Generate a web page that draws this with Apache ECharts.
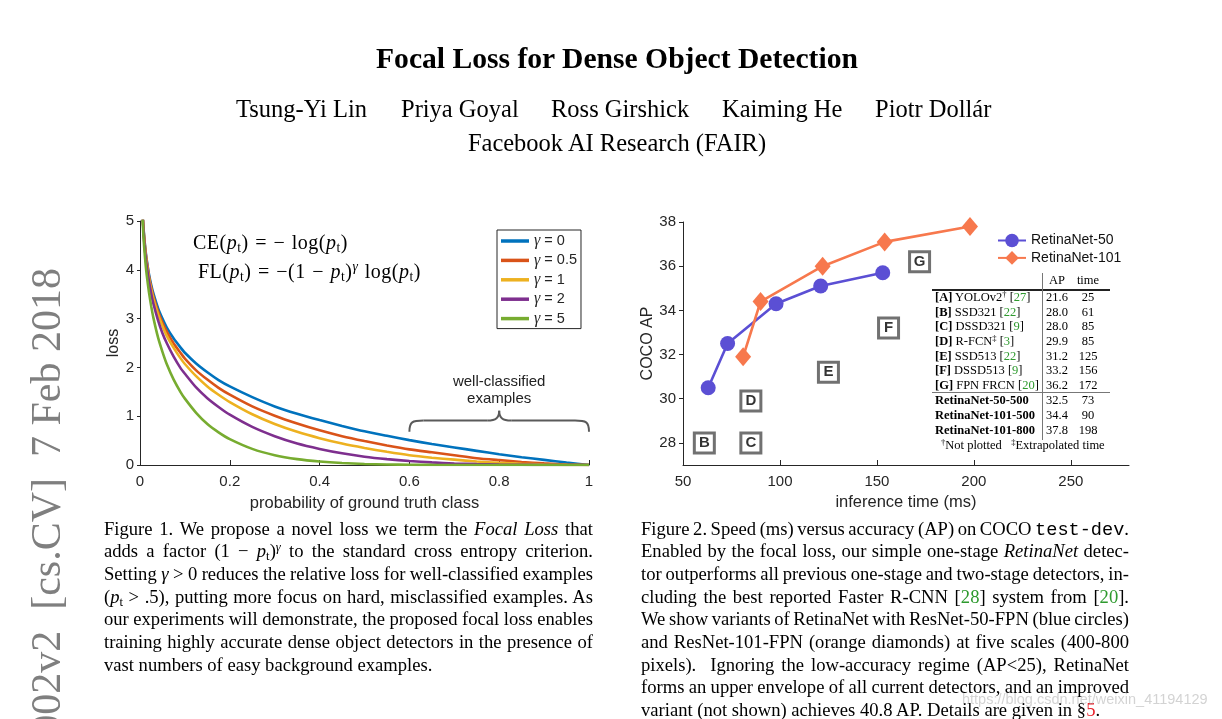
<!DOCTYPE html>
<html><head><meta charset="utf-8">
<script src="https://cdn.jsdelivr.net/npm/echarts@6/dist/echarts.min.js"></script>
<style>
html,body{margin:0;padding:0;background:#fff;}
#page{position:relative;width:1222px;height:719px;overflow:hidden;background:#fff;}
#chart{position:absolute;left:0;top:0;width:1222px;height:719px;}
.t{position:absolute;white-space:nowrap;font-family:"Liberation Serif","Times New Roman",serif;color:#000;}
.cap{position:absolute;font-family:"Liberation Serif","Times New Roman",serif;font-size:18.6px;color:#000;}
.cap .ln{height:22.67px;line-height:22.67px;white-space:nowrap;}
sub{font-size:0.68em;vertical-align:-0.22em;line-height:0;}
sup{font-size:0.68em;vertical-align:0.5em;line-height:0;}
.mono{font-family:"Liberation Mono","DejaVu Sans Mono",monospace;font-size:18.6px;}
.g{color:#2e9a2e;}
.r{color:#e8202a;}
.tb{position:absolute;font-family:"Liberation Serif","Times New Roman",serif;font-size:12.5px;color:#000;white-space:nowrap;line-height:14px;}
.hl{position:absolute;background:#222;}
</style>
</head>
<body>
<div id="page">
  <div id="chart"></div>
  <div id="overlay"></div>
</div>
<script>
// ---------------- Figure 1 data ----------------
const pValues = [0.005, 0.0075, 0.01, 0.0125, 0.015, 0.02, 0.025, 0.03, 0.04, 0.05, 0.06, 0.075, 0.09, 0.1, 0.125, 0.15, 0.175, 0.2, 0.25, 0.3, 0.35, 0.4, 0.45, 0.5, 0.55, 0.6, 0.65, 0.7, 0.75, 0.8, 0.85, 0.9, 0.95, 1.0];
const lossGamma0  = [5.30, 4.89, 4.61, 4.38, 4.20, 3.91, 3.69, 3.51, 3.22, 3.00, 2.81, 2.59, 2.41, 2.30, 2.08, 1.90, 1.74, 1.61, 1.39, 1.20, 1.05, 0.92, 0.80, 0.69, 0.60, 0.51, 0.43, 0.36, 0.29, 0.22, 0.16, 0.105, 0.051, 0];
const lossGamma05 = [5.28, 4.87, 4.58, 4.35, 4.17, 3.87, 3.64, 3.45, 3.15, 2.92, 2.73, 2.49, 2.30, 2.18, 1.94, 1.75, 1.58, 1.44, 1.20, 1.01, 0.85, 0.71, 0.59, 0.49, 0.40, 0.32, 0.26, 0.20, 0.14, 0.10, 0.063, 0.033, 0.011, 0];
const lossGamma1  = [5.27, 4.86, 4.56, 4.33, 4.14, 3.83, 3.60, 3.40, 3.09, 2.85, 2.64, 2.40, 2.19, 2.07, 1.82, 1.61, 1.44, 1.29, 1.04, 0.84, 0.68, 0.55, 0.44, 0.35, 0.27, 0.20, 0.15, 0.11, 0.072, 0.045, 0.024, 0.011, 0.003, 0];
const lossGamma2  = [5.25, 4.82, 4.51, 4.27, 4.07, 3.76, 3.51, 3.30, 2.97, 2.70, 2.49, 2.22, 1.99, 1.87, 1.59, 1.37, 1.19, 1.03, 0.78, 0.59, 0.44, 0.33, 0.24, 0.17, 0.12, 0.082, 0.053, 0.032, 0.018, 0.009, 0.004, 0.001, 0, 0];
const lossGamma5  = [5.17, 4.71, 4.38, 4.11, 3.89, 3.54, 3.25, 3.01, 2.62, 2.32, 2.06, 1.75, 1.50, 1.36, 1.07, 0.84, 0.67, 0.53, 0.33, 0.20, 0.12, 0.071, 0.040, 0.022, 0.011, 0.005, 0.002, 0.001, 0, 0, 0, 0, 0, 0];
const gammaLabels = ['0', '0.5', '1', '2', '5'];
const gammaColors = ['#0072BD', '#D95319', '#EDB120', '#7E2F8E', '#77AC30'];
const lossTicksX  = [0, 0.2, 0.4, 0.6, 0.8, 1];
const braceX = [0.6, 1.0];            // well-classified range
const braceY = [0.68, 0.91, 1.11];    // end, bar, peak (loss units)
const braceTextPos = [0.8, 1.52];

// ---------------- Figure 2 data ----------------
const r50Time  = [63, 73, 98, 121, 153];
const r50AP    = [30.5, 32.5, 34.3, 35.1, 35.7];
const r101Time = [81, 90, 122, 154, 198];
const r101AP   = [31.9, 34.4, 36.0, 37.1, 37.8];
const otherLetters = ['A', 'B', 'C', 'D', 'E', 'F', 'G'];
const otherNames   = ['YOLOv2', 'SSD321', 'DSSD321', 'R-FCN', 'SSD513', 'DSSD513', 'FPN FRCN'];
const otherMarks   = ['†', '', '', '‡', '', '', ''];
const otherRefs    = ['27', '22', '9', '3', '22', '9', '20'];
const otherAP      = [21.6, 28.0, 28.0, 29.9, 31.2, 33.2, 36.2];
const otherTime    = [25, 61, 85, 85, 125, 156, 172];
const otherPlotted = [false, true, true, true, true, true, true];
const retinaNames  = ['RetinaNet-50-500', 'RetinaNet-101-500', 'RetinaNet-101-800'];
const retinaAP     = [32.5, 34.4, 37.8];
const retinaTime   = [73, 90, 198];
const speedTicksX  = [50, 100, 150, 200, 250];
const apTicksY     = [28, 30, 32, 34, 36, 38];

// ---------------- chart ----------------
const axisCol = '#262626';
const sans = '"Liberation Sans", Arial, Helvetica, sans-serif';
const chart = echarts.init(document.getElementById('chart'), null, {renderer: 'canvas'});

const lossArrays = [lossGamma0, lossGamma05, lossGamma1, lossGamma2, lossGamma5];
const lossSeries = lossArrays.map((arr, k) => ({
  type: 'line', name: 'γ = ' + gammaLabels[k], xAxisIndex: 0, yAxisIndex: 0,
  data: pValues.map((p, i) => [p, arr[i]]),
  smooth: 0.2, symbol: 'none', clip: true,
  lineStyle: {color: gammaColors[k], width: 2.6}, itemStyle: {color: gammaColors[k]},
  z: 2 + k, animation: false
}));

const boxData = [];
otherLetters.forEach((l, i) => { if (otherPlotted[i]) boxData.push({value: [otherTime[i], otherAP[i]], name: l}); });

const option = {
  animation: false,
  grid: [
    {left: 140, top: 221, width: 449, height: 244, containLabel: false},
    {left: 683, top: 222, width: 446, height: 243, containLabel: false}
  ],
  xAxis: [
    {type: 'value', gridIndex: 0, min: 0, max: 1, interval: 0.2,
     axisLine: {lineStyle: {color: axisCol, width: 1}}, axisTick: {inside: true, length: 5, lineStyle: {color: axisCol}},
     axisLabel: {color: axisCol, fontSize: 15, fontFamily: sans, margin: 9, customValues: lossTicksX},
     splitLine: {show: false},
     name: 'probability of ground truth class', nameLocation: 'middle', nameGap: 30,
     nameTextStyle: {color: axisCol, fontSize: 16.5, fontFamily: sans}},
    {type: 'value', gridIndex: 1, min: 50, max: 280,
     axisLine: {lineStyle: {color: axisCol, width: 1}}, axisTick: {inside: true, length: 5, customValues: speedTicksX, lineStyle: {color: axisCol}},
     axisLabel: {color: axisCol, fontSize: 15, fontFamily: sans, margin: 9, customValues: speedTicksX},
     splitLine: {show: false},
     name: 'inference time (ms)', nameLocation: 'middle', nameGap: 29,
     nameTextStyle: {color: axisCol, fontSize: 16.5, fontFamily: sans}}
  ],
  yAxis: [
    {type: 'value', gridIndex: 0, min: 0, max: 5, interval: 1,
     axisLine: {show: true, lineStyle: {color: axisCol, width: 1}}, axisTick: {show: true, inside: false, length: 3, lineStyle: {color: axisCol}},
     axisLabel: {color: axisCol, fontSize: 15, fontFamily: sans, margin: 6},
     splitLine: {show: false},
     name: 'loss', nameLocation: 'middle', nameGap: 16, nameRotate: 90,
     nameTextStyle: {color: axisCol, fontSize: 16, fontFamily: sans}},
    {type: 'value', gridIndex: 1, min: 27, max: 38,
     axisLine: {show: true, lineStyle: {color: axisCol, width: 1}}, axisTick: {show: true, inside: false, length: 4, customValues: apTicksY, lineStyle: {color: axisCol}},
     axisLabel: {color: axisCol, fontSize: 15, fontFamily: sans, margin: 7, customValues: apTicksY},
     splitLine: {show: false},
     name: 'COCO AP', nameLocation: 'middle', nameGap: 26, nameRotate: 90,
     nameTextStyle: {color: axisCol, fontSize: 16, fontFamily: sans}}
  ],
  legend: [
    {data: lossSeries.map(s => s.name), orient: 'vertical', left: 497, top: 230,
     itemWidth: 28, itemHeight: 3.5, itemGap: 3.4, padding: [3, 4, 2, 4],
     borderColor: axisCol, borderWidth: 1, backgroundColor: '#fff',
     icon: 'rect',
     formatter: name => '{g|γ}{t|' + name.slice(1) + '}',
     textStyle: {rich: {
       g: {fontFamily: '"Liberation Serif", serif', fontStyle: 'italic', fontSize: 16, color: axisCol, lineHeight: 14},
       t: {fontFamily: sans, fontSize: 14.5, color: axisCol, lineHeight: 14}}},
     selectedMode: false},
    {data: ['RetinaNet-50', 'RetinaNet-101'], orient: 'vertical', left: 997, top: 232,
     itemWidth: 28, itemHeight: 17, itemGap: 0.4, padding: 0,
     textStyle: {fontFamily: sans, fontSize: 14, color: '#111', lineHeight: 17},
     selectedMode: false}
  ],
  series: lossSeries.concat([
    {type: 'line', name: 'RetinaNet-50', xAxisIndex: 1, yAxisIndex: 1,
     data: r50Time.map((t, i) => [t, r50AP[i]]), symbol: 'circle', symbolSize: 15,
     lineStyle: {color: '#5b4fd4', width: 2.6}, itemStyle: {color: '#5b4fd4'}, z: 5},
    {type: 'line', name: 'RetinaNet-101', xAxisIndex: 1, yAxisIndex: 1,
     data: r101Time.map((t, i) => [t, r101AP[i]]), symbol: 'diamond', symbolSize: [16, 19],
     lineStyle: {color: '#f7784d', width: 2.6}, itemStyle: {color: '#f7784d'}, z: 6},
    {type: 'scatter', name: 'others', xAxisIndex: 1, yAxisIndex: 1, data: boxData,
     symbol: 'rect', symbolSize: 20,
     itemStyle: {color: '#fff', borderColor: '#4d4d4d', borderWidth: 3},
     label: {show: true, position: 'inside', formatter: p => p.name, color: '#000',
             fontFamily: sans, fontWeight: 'bold', fontSize: 15},
     z: 4}
  ])
};
chart.setOption(option);

// brace + annotation in data coordinates of the left plot
try {
  const pL = chart.convertToPixel({gridIndex: 0}, [braceX[0], braceY[0]]);
  const pR = chart.convertToPixel({gridIndex: 0}, [braceX[1], braceY[0]]);
  const yBar = chart.convertToPixel({gridIndex: 0}, [braceX[0], braceY[1]])[1];
  const yPeak = chart.convertToPixel({gridIndex: 0}, [braceX[0], braceY[2]])[1];
  const xm = (pL[0] + pR[0]) / 2, yb = pL[1];
  const bs = {fill: null, stroke: '#5a5a5a', lineWidth: 2};
  const tp = chart.convertToPixel({gridIndex: 0}, braceTextPos);
  chart.setOption({graphic: [
    {type: 'bezierCurve', z: 10, style: bs, shape: {x1: pL[0], y1: yb, cpx1: pL[0], cpy1: yBar + 1, cpx2: pL[0] + 3, cpy2: yBar, x2: pL[0] + 14, y2: yBar}},
    {type: 'line', z: 10, style: bs, shape: {x1: pL[0] + 14, y1: yBar, x2: xm - 12, y2: yBar}},
    {type: 'bezierCurve', z: 10, style: bs, shape: {x1: xm - 12, y1: yBar, cpx1: xm - 3, cpy1: yBar, cpx2: xm, cpy2: yBar - 3, x2: xm, y2: yPeak}},
    {type: 'bezierCurve', z: 10, style: bs, shape: {x1: xm, y1: yPeak, cpx1: xm, cpy1: yBar - 3, cpx2: xm + 3, cpy2: yBar, x2: xm + 12, y2: yBar}},
    {type: 'line', z: 10, style: bs, shape: {x1: xm + 12, y1: yBar, x2: pR[0] - 14, y2: yBar}},
    {type: 'bezierCurve', z: 10, style: bs, shape: {x1: pR[0] - 14, y1: yBar, cpx1: pR[0] - 3, cpy1: yBar, cpx2: pR[0], cpy2: yBar + 1, x2: pR[0], y2: yb}},
    {type: 'text', x: tp[0], y: tp[1], z: 10,
     style: {text: 'well-classified\nexamples', align: 'center', verticalAlign: 'middle',
             font: '15px "Liberation Sans", Arial, sans-serif', fill: '#222', lineHeight: 17}}
  ]});
} catch (e) { console.log(e); }

// ---------------- text overlay (page text, formulas, table) ----------------
const ov = document.getElementById('overlay');
function add(html, style, cls) {
  const d = document.createElement('div');
  d.className = cls || 't';
  d.setAttribute('style', style);
  d.innerHTML = html;
  ov.appendChild(d);
  return d;
}
const pt = '<i>p</i><sub>t</sub>';
// title block
add('Focal Loss for Dense Object Detection', 'left:0;width:1234px;top:42px;text-align:center;font-weight:bold;font-size:29.6px;line-height:32px;');
const authors = [['Tsung-Yi Lin', 236], ['Priya Goyal', 401], ['Ross Girshick', 551], ['Kaiming He', 722], ['Piotr Dollár', 875]];
authors.forEach(a => add(a[0], `left:${a[1]}px;top:96px;font-size:24.5px;line-height:26px;`));
add('Facebook AI Research (FAIR)', 'left:0;width:1234px;top:130px;text-align:center;font-size:24.5px;line-height:26px;');

// arXiv side stamp (rotated)
add('arXiv:1708.02002v2&nbsp;&nbsp;[cs.CV]&nbsp;&nbsp;7 Feb 2018',
  'left:-954px;top:247px;width:1000px;height:42px;line-height:42px;text-align:right;font-size:42px;color:#7f7f7f;transform-origin:100% 50%;transform:rotate(-90deg);');

// formulas
add(`CE(${pt}) = &minus; log(${pt})`, 'left:193px;top:231px;font-size:20px;line-height:22px;letter-spacing:0.5px;word-spacing:1px;');
add(`FL(${pt}) = &minus;(1 &minus; ${pt})<sup><i>γ</i></sup> log(${pt})`, 'left:198px;top:260px;font-size:20px;line-height:22px;letter-spacing:0.5px;word-spacing:1px;');

// captions: each line typeset like the reference (same breaks), justified by word spacing
const capL = [
  'Figure 1. We propose a novel loss we term the <i>Focal Loss</i> that',
  `adds a factor (1 &minus; ${pt})<sup><i>γ</i></sup> to the standard cross entropy criterion.`,
  'Setting <i>γ</i> &gt; 0 reduces the relative loss for well-classified examples',
  `(${pt} &gt; .5), putting more focus on hard, misclassified examples. As`,
  'our experiments will demonstrate, the proposed focal loss enables',
  'training highly accurate dense object detectors in the presence of',
  'vast numbers of easy background examples.'
];
const capR = [
  'Figure 2. Speed (ms) versus accuracy (AP) on COCO <span class="mono">test-dev</span>.',
  'Enabled by the focal loss, our simple one-stage <i>RetinaNet</i> detec-',
  'tor outperforms all previous one-stage and two-stage detectors, in-',
  'cluding the best reported Faster R-CNN [<span class="g">28</span>] system from [<span class="g">20</span>].',
  'We show variants of RetinaNet with ResNet-50-FPN (blue circles)',
  'and ResNet-101-FPN (orange diamonds) at five scales (400-800',
  'pixels).&nbsp; Ignoring the low-accuracy regime (AP&lt;25), RetinaNet',
  'forms an upper envelope of all current detectors, and an improved',
  'variant (not shown) achieves 40.8 AP. Details are given in §<span class="r">5</span>.'
];
function caption(lines, left, width) {
  const box = add('', `left:${left}px;top:517.7px;width:${width}px;`, 'cap');
  lines.forEach((l, i) => {
    const d = document.createElement('div');
    d.className = 'ln';
    const s = document.createElement('span');
    s.innerHTML = l;
    d.appendChild(s);
    box.appendChild(d);
    if (i < lines.length - 1) {
      const w = s.getBoundingClientRect().width;
      const n = (s.textContent.match(/[ \u00a0]/g) || []).length;
      if (n > 0) s.style.wordSpacing = ((width - w) / n).toFixed(3) + 'px';
    }
  });
}
caption(capL, 104, 489);
caption(capR, 641, 488);

// watermark
add('https://blog.csdn.net/weixin_41194129', 'left:962px;top:691px;font-family:"Liberation Sans",Arial,sans-serif;font-size:14.5px;color:rgba(175,175,175,0.55);');

// table
const colName = 935, colAP = 1057, colTime = 1088;
function cell(html, x, yc, align) {
  const w = 80;
  let left = x;
  let st2 = `top:${yc - 7}px;`;
  if (align === 'center') { left = x - w / 2; st2 += `width:${w}px;text-align:center;`; }
  st2 += `left:${left}px;`;
  add(html, st2, 'tb');
}
cell('AP', colAP, 280, 'center');
cell('time', colTime, 280, 'center');
const rowY0 = 296.8, rowStep = 14.7;
otherLetters.forEach((l, i) => {
  const y = rowY0 + i * rowStep;
  const mark = otherMarks[i] ? `<sup>${otherMarks[i]}</sup>` : '';
  cell(`<b>[${l}]</b> ${otherNames[i]}${mark} [<span class="g">${otherRefs[i]}</span>]`, colName, y, 'left');
  cell(otherAP[i].toFixed(1), colAP, y, 'center');
  cell(String(otherTime[i]), colTime, y, 'center');
});
retinaNames.forEach((n, i) => {
  const y = 400.3 + i * rowStep;
  cell(`<b>${n}</b>`, colName, y, 'left');
  cell(retinaAP[i].toFixed(1), colAP, y, 'center');
  cell(String(retinaTime[i]), colTime, y, 'center');
});
cell('<sup>†</sup>Not plotted&nbsp;&nbsp;&nbsp;<sup>‡</sup>Extrapolated time', 941, 445, 'left');
add('', 'left:932px;top:289px;width:178px;height:1.6px;', 'hl');
add('', 'left:932px;top:392px;width:178px;height:1px;background:#777;', 'hl');
add('', 'left:1042px;top:273px;width:1px;height:167px;background:#777;', 'hl');
</script>
</body></html>
